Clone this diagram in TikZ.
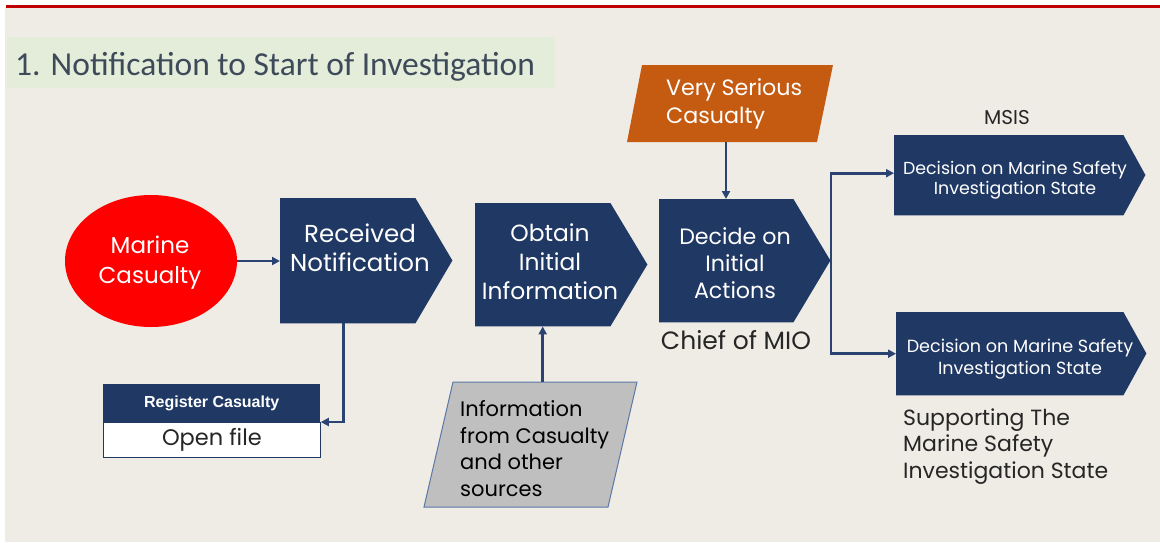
\documentclass[tikz,border=0pt]{standalone}
\usepackage{fontspec}
\setmainfont{Poppins}
\newfontfamily\titlefont{Carlito}
\newfontfamily\arialfont{Liberation Sans}
\usetikzlibrary{arrows.meta,shapes.geometric}
\definecolor{navy}{HTML}{203864}
\definecolor{connc}{HTML}{2A4373}
\definecolor{bgc}{HTML}{EFECE5}
\definecolor{bandc}{HTML}{E3EDD9}
\definecolor{titlec}{HTML}{3E4A5A}
\definecolor{redline}{HTML}{C00000}
\definecolor{orangec}{HTML}{C55A11}
\definecolor{grayc}{HTML}{BFBFBF}
\definecolor{infoborder}{HTML}{5B77A8}
\definecolor{darktext}{HTML}{262626}
\tikzset{
  navybox/.style={draw=none, inner sep=0pt, anchor=north west},
  wtext/.style={text=white, align=center, inner sep=0pt},
  conn/.style={draw=connc, line width=2.6pt, -{Triangle[length=8pt,width=8pt]}},
  ghost/.style={draw=none, inner sep=0pt},
}
\begin{document}
\begin{tikzpicture}[x=1pt,y=-1pt]
\useasboundingbox (0,0) rectangle (1160,542);
\fill[white] (0,0) rectangle (1160,542);
\fill[bgc] (5,7) rectangle (1160,542);
\draw[redline, line width=3pt] (6,6) -- (1160,6);
\fill[bandc] (7,37) rectangle (555,88);
\node[anchor=base west, inner sep=0pt, text=titlec, font=\titlefont\fontsize{33.5}{33.5}\selectfont] (title) at (15,75) {1. Notification to Start of Investigation};

% Marine casualty
\node[ellipse, fill=red, minimum width=172pt, minimum height=132pt, inner sep=0pt] (mc) at (151,261) {};
\node[wtext, font=\fontsize{23}{30}\selectfont] (mct) at (150,263) {Marine\\Casualty};

% Received Notification
\node[navybox, minimum width=135pt, minimum height=125pt] (rn) at (280,198) {};
\fill[navy] (rn.north west) -- (rn.north east) -- ++(37,62.5) -- (rn.south east) -- (rn.south west) -- cycle;
\node[wtext, font=\fontsize{24.5}{29}\selectfont] (rnt) at (360,247.5) {Received\\Notification};

% Obtain Initial Information
\node[navybox, minimum width=135pt, minimum height=123pt] (ob) at (475,203) {};
\fill[navy] (ob.north west) -- (ob.north east) -- ++(37,61.5) -- (ob.south east) -- (ob.south west) -- cycle;
\node[wtext, font=\fontsize{23.4}{29}\selectfont] (obt) at (550,261.5) {Obtain\\Initial\\Information};

% Decide on Initial Actions
\node[navybox, minimum width=134pt, minimum height=123pt] (db) at (659,199) {};
\fill[navy] (db.north west) -- (db.north east) -- ++(37,61.5) -- (db.south east) -- (db.south west) -- cycle;
\coordinate (dtip) at (831,260.5);
\node[wtext, font=\fontsize{22.2}{27}\selectfont] (dbt) at (735,263.5) {Decide on\\Initial\\Actions};
\node[inner sep=0pt, text=darktext, font=\fontsize{25}{25}\selectfont] (chief) at (736,340) {Chief of MIO};

% Very Serious Casualty
\fill[orangec] (642,65) -- (833,65) -- (817,142) -- (627,142) -- cycle;
\node[ghost, minimum width=190pt, minimum height=77pt] (vsc) at (730,103.5) {};
\node[anchor=west, inner sep=0pt, align=left, text=white, font=\fontsize{22.2}{28}\selectfont] (vsct) at (666,104) {Very Serious\\Casualty};

% Decision boxes
\node[navybox, minimum width=229pt, minimum height=80pt] (tdb) at (894,135) {};
\fill[navy] (tdb.north west) -- (tdb.north east) -- ++(22,40) -- (tdb.south east) -- (tdb.south west) -- cycle;
\node[wtext, font=\fontsize{17.4}{20.5}\selectfont] (tdbt) at (1015,180) {Decision on Marine Safety\\Investigation State};
\node[inner sep=0pt, text=darktext, font=\fontsize{20}{20}\selectfont] (msis) at (1007,118) {MSIS};

\node[navybox, minimum width=227pt, minimum height=83pt] (bdb) at (896,312) {};
\fill[navy] (bdb.north west) -- (bdb.north east) -- ++(23,41.5) -- (bdb.south east) -- (bdb.south west) -- cycle;
\node[wtext, font=\fontsize{17.6}{22}\selectfont] (bdbt) at (1020,359) {Decision on Marine Safety\\Investigation State};
\node[anchor=west, inner sep=0pt, align=left, text=darktext, font=\fontsize{22}{26.5}\selectfont] (supp) at (903,446.5) {Supporting The\\Marine Safety\\Investigation State};

% Register casualty
\node[navybox, fill=navy, minimum width=217pt, minimum height=38pt, text=white, font=\arialfont\bfseries\fontsize{16}{16}\selectfont] (regh) at (103,384) {Register Casualty};
\node[anchor=north west, draw=navy, line width=0.8pt, fill=white, minimum width=217pt, minimum height=35pt, inner sep=0pt, text=darktext, font=\fontsize{22.5}{22.5}\selectfont] (regb) at (103,422) {Open file};

% Information parallelogram
\filldraw[fill=grayc, draw=infoborder, line width=1pt] (453,382) -- (637,382) -- (608,507) -- (424,507) -- cycle;
\node[ghost, minimum width=184pt, minimum height=125pt] (info) at (530.5,444.5) {};
\node[anchor=west, inner sep=0pt, align=left, text=black, font=\fontsize{21}{26.5}\selectfont] (infot) at (460,448.5) {Information\\from Casualty\\and other\\sources};

% connectors
\draw[conn] (mc.east) -- (mc.east -| rn.west);
\draw[conn] ([xshift=-4.5pt]rn.south) |- (regb.north east);
\draw[conn] (ob.south |- info.north) -- (ob.south);
\draw[conn] ([xshift=-4pt]vsc.south) -- ([xshift=-4pt]vsc.south |- db.north);
\draw[conn] (dtip) |- ([yshift=2pt]tdb.west);
\draw[conn] (dtip) |- (bdb.west);
\end{tikzpicture}
\end{document}
